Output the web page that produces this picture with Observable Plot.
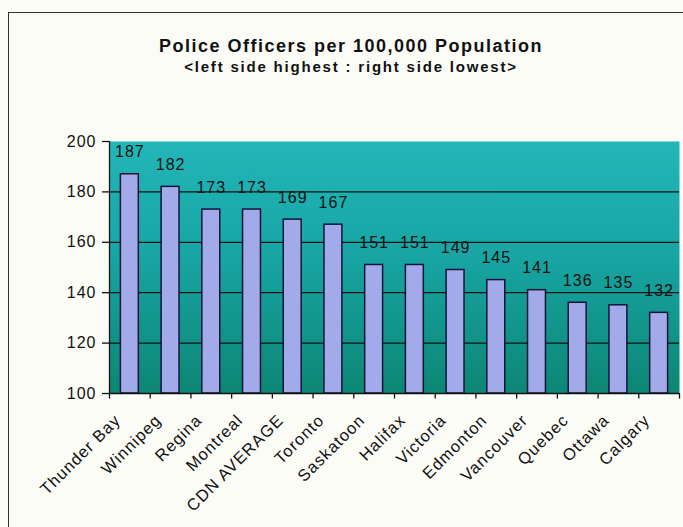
<!DOCTYPE html>
<html><head><meta charset="utf-8">
<script src="https://cdn.jsdelivr.net/npm/d3@7"></script>
<script src="https://cdn.jsdelivr.net/npm/@observablehq/plot@0.6"></script>
<style>
body{margin:0;background:#fcfcf7;font-family:"Liberation Sans",Arial,sans-serif;color:#111;}
#wrap{position:relative;width:683px;height:527px;overflow:hidden;}
#border{position:absolute;left:8px;top:12px;width:720px;height:560px;border:1px solid #333;}
#title{position:absolute;left:0;width:702px;top:35px;text-align:center;font-weight:bold;font-size:18px;letter-spacing:1.5px;line-height:22px;}
#subtitle{position:absolute;left:0;width:702px;top:58px;text-align:center;font-weight:bold;font-size:15px;letter-spacing:1.8px;line-height:18px;}
#chart{position:absolute;left:0;top:90px;}
</style></head>
<body>
<div id="wrap">
<div id="border"></div>
<div id="title">Police Officers per 100,000 Population</div>
<div id="subtitle">&lt;left side highest : right side lowest&gt;</div>
<div id="chart"></div>
</div>
<script>
const cities = ["Thunder Bay","Winnipeg","Regina","Montreal","CDN AVERAGE","Toronto","Saskatoon","Halifax","Victoria","Edmonton","Vancouver","Quebec","Ottawa","Calgary"];
const values = [187,182,173,173,169,167,151,151,149,145,141,136,135,132];
const yTicks = [100,120,140,160,180,200];
const gridValues = [120,140,160,180];

const data = cities.map((c,i)=>({city:c, value:values[i]}));
const W = 683, H = 437, ML = 109, MR = 4, MT = 51, MB = 134;
const step = (W - ML - MR) / cities.length;

const chart = Plot.plot({
  width: W, height: H,
  marginLeft: ML, marginRight: MR, marginTop: MT, marginBottom: MB,
  style: {background: "transparent", fontFamily: "Liberation Sans, Arial, sans-serif", fontSize: "16px", color: "#111", letterSpacing: "1px"},
  x: {domain: cities, paddingInner: 0.56, paddingOuter: 0.28, round: false, label: null},
  y: {domain: [100, 200], label: null},
  marks: [
    Plot.frame({fill: "url(#plotbg)", stroke: null}),
    Plot.ruleY(gridValues, {stroke: "#111", strokeWidth: 1.3}),
    Plot.barY(data, {x: "city", y1: 100, y2: "value", fill: "#a3aaea", stroke: "#14143a", strokeWidth: 1.5}),
    Plot.text(data, {x: "city", y: "value", text: d => String(d.value), dy: -22, fontSize: 16, fill: "#111"}),
    Plot.ruleX(data, {x: "city", y1: 100, y2: 97.8, dx: -step/2, stroke: "#111", strokeWidth: 1.3}),
    Plot.ruleX([cities[cities.length-1]], {x: d => d, y1: 100, y2: 97.8, dx: step/2, stroke: "#111", strokeWidth: 1.3}),
    Plot.ruleX([cities[0]], {x: d => d, y1: 100, y2: 200, dx: -step/2, stroke: "#111", strokeWidth: 1.3}),
    Plot.ruleY([100], {stroke: "#111", strokeWidth: 1.3}),
    Plot.axisY({ticks: yTicks, tickSize: 7, tickPadding: 6, fontSize: 16, label: null, strokeWidth: 1.3}),
    Plot.axisX({tickSize: 0, tickRotate: -45, tickPadding: 8, dx: -12, dy: 16, fontSize: 16.5, label: null})
  ]
});

const svg = d3.select(chart);
const grad = svg.insert("defs", ":first-child").append("linearGradient")
  .attr("id", "plotbg").attr("x1", 0).attr("y1", 0).attr("x2", 0).attr("y2", 1);
grad.append("stop").attr("offset", "0%").attr("stop-color", "#22b6b8");
grad.append("stop").attr("offset", "45%").attr("stop-color", "#18a5a4");
grad.append("stop").attr("offset", "100%").attr("stop-color", "#0c8674");
document.getElementById("chart").appendChild(chart);
</script>
</body></html>
